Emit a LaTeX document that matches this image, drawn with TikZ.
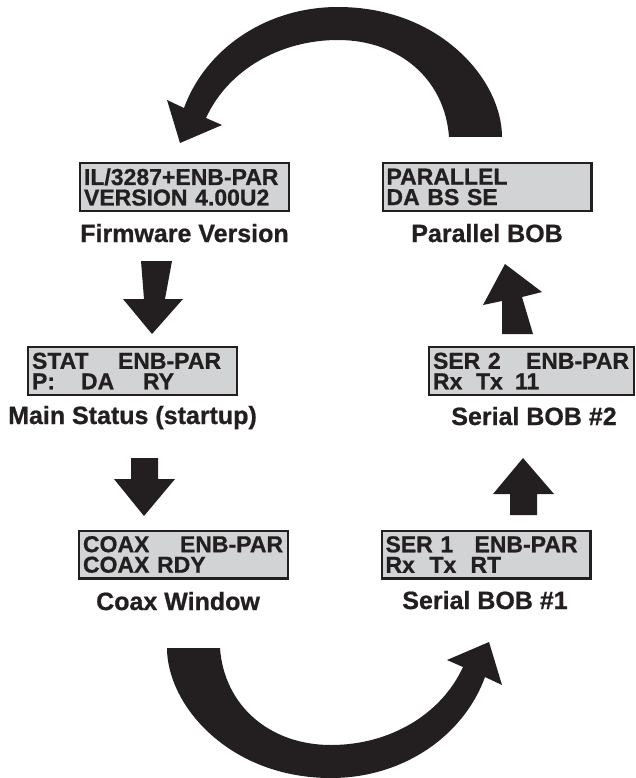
\documentclass[tikz,border=0pt]{standalone}
\usepackage{fontspec}
\setmainfont{Liberation Sans}[BoldFeatures={FakeBold=0.8}]
\definecolor{lcdfill}{RGB}{209,211,212}
\definecolor{ink}{RGB}{35,31,32}
\tikzset{
  lcd/.style={draw=ink, line width=2.4pt, fill=lcdfill, minimum width=208.6pt, minimum height=47.6pt,
    text width=201pt, inner xsep=3.8pt, inner ysep=0pt, align=left, text=ink,
    font=\fontsize{23}{20.5}\selectfont\bfseries},
  caption/.style={anchor=base, text=ink, font=\fontsize{25}{30}\selectfont\bfseries},
  blockarrow/.style={fill=ink, draw=none},
}
\begin{document}
\begin{tikzpicture}[x=1pt,y=-1pt]
\useasboundingbox (0,0) rectangle (635,778);
% displays
\node[lcd] (fwbox) at (184.5,187) {IL/3287+ENB-PAR\\VERSION 4.00U2};
\node[lcd] (pbox) at (487,187) {PARALLEL\\DA BS SE};
\node[lcd] (msbox) at (132.5,371) {\makebox[86pt][l]{STAT}ENB-PAR\\\makebox[49pt][l]{P:}\makebox[62pt][l]{DA}RY};
\node[lcd, minimum width=204.6pt, text width=197pt] (s2box) at (531.5,371) {\makebox[93pt][l]{SER 2}ENB-PAR\\\makebox[43pt][l]{Rx}\makebox[39pt][l]{Tx}11};
\node[lcd] (cxbox) at (183.5,554.5) {\makebox[97pt][l]{COAX}ENB-PAR\\COAX RDY};
\node[lcd] (s1box) at (486,554.5) {\makebox[89pt][l]{SER 1}ENB-PAR\\\makebox[44pt][l]{Rx}\makebox[41pt][l]{Tx}RT};
% captions
\node[caption] (fwcap) at (184.5,242) {Firmware Version};
\node[caption] (pcap) at (487,242) {Parallel BOB};
\node[caption] (mscap) at (132.5,424) {Main Status (startup)};
\node[caption] (s2cap) at (534,425) {Serial BOB \#2};
\node[caption] (cxcap) at (178,610) {Coax Window};
\node[caption] (s1cap) at (485,609) {Serial BOB \#1};
% straight arrows
\fill[blockarrow] (141,261) -- (172,261) -- (165,299) -- (183,299) -- (152,334) -- (123,299) -- (144,299) -- cycle;
\fill[blockarrow] (131,458) -- (158,458) -- (158,479) -- (175,479) -- (144,516) -- (114,479) -- (131,479) -- cycle;
\fill[blockarrow] (510,515) -- (537,515) -- (537,494) -- (554,494) -- (523,458) -- (493,494) -- (510,494) -- cycle;
\fill[blockarrow] (502,334) -- (533,334) -- (522,297) -- (542,292) -- (505,264) -- (483,305) -- (502,301) -- cycle;
% round arrows, top and bottom
\foreach \r in {0,180}
  \fill[blockarrow, rotate around={\r:(334.5,392.5)}] (449,137) -- (502,137)
    .. controls (502,80) and (440,7) .. (338,7) .. controls (265,7) and (205,50) .. (184,108)
    -- (167,100) -- (180,143) -- (222,125) -- (206,118)
    .. controls (228,70) and (280,40) .. (338,40) .. controls (400,40) and (445,80) .. (449,137) -- cycle;
\end{tikzpicture}
\end{document}
